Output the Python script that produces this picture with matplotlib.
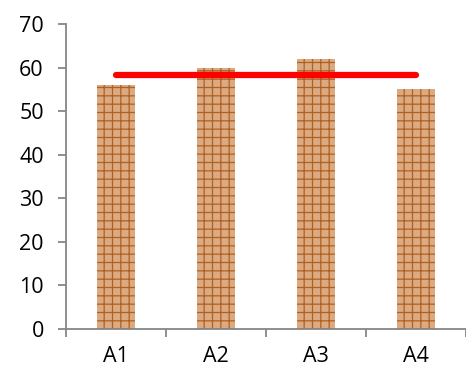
import matplotlib.pyplot as plt

plt.rcParams['font.family'] = ['Open Sans', 'DejaVu Sans']
plt.rcParams['hatch.color'] = '#b0601f'
plt.rcParams['hatch.linewidth'] = 0.9

categories = ['A1', 'A2', 'A3', 'A4']
values = [56, 60, 62, 55]
average = sum(values) / len(values)

fig = plt.figure(figsize=(4.66, 3.74), dpi=100)
ax = fig.add_axes([0.1416, 0.1203, 0.8584, 0.8155])

x = list(range(len(categories)))
ax.bar(x, values, width=0.38, color='#dcaa82', hatch='++', linewidth=0)
ax.plot([x[0], x[-1]], [average, average], color='#ff0000', linewidth=4.5,
        solid_capstyle='round')

ax.set_xlim(-0.5, len(categories) - 0.5)
ax.set_ylim(0, 70)
ax.set_yticks(range(0, 71, 10))
# category boundaries get the tick marks, names sit between them
ax.set_xticks([i - 0.5 for i in range(len(categories) + 1)])
ax.set_xticklabels([''] * (len(categories) + 1))
ax.set_xticks(x, minor=True)
ax.set_xticklabels(categories, minor=True)

for side in ['top', 'right']:
    ax.spines[side].set_visible(False)
for side in ['left', 'bottom']:
    ax.spines[side].set_color('#868686')
    ax.spines[side].set_linewidth(1.3)

ax.tick_params(axis='y', which='major', length=6, width=1.3, color='#868686',
               labelsize=15.5, pad=10)
ax.tick_params(axis='x', which='major', length=6, width=1.3, color='#868686')
ax.tick_params(axis='x', which='minor', length=0, labelsize=15.5, pad=12)

fig.savefig('out.png', dpi=100)
